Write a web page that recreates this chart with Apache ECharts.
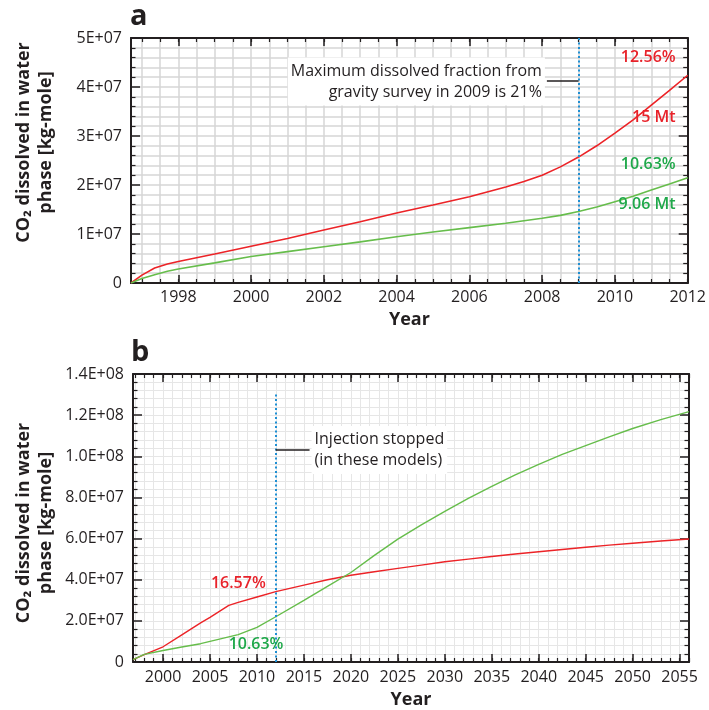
<!DOCTYPE html>
<html>
<head>
<meta charset="utf-8">
<script src="https://cdn.jsdelivr.net/npm/echarts@6.0.0/dist/echarts.min.js"></script>
<style>
  html, body { margin: 0; padding: 0; background: #fff; }
  #chart { width: 709px; height: 710px; }
</style>
</head>
<body>
<div id="chart"></div>
<script>
// panel a: 1996 - 2012
const yearsA = [1996.7, 1997.0, 1997.35, 1997.7, 1998, 1999, 2000, 2001, 2002, 2003, 2004, 2005, 2006, 2007, 2007.5, 2008, 2008.5, 2009, 2009.5, 2010, 2010.5, 2011, 2011.5, 2012];
const redA = [0, 1.6e6, 3.06e6, 3.88e6, 4.4e6, 5.9e6, 7.5e6, 9.1e6, 1.08e7, 1.25e7, 1.43e7, 1.59e7, 1.76e7, 1.96e7, 2.07e7, 2.2e7, 2.37e7, 2.57e7, 2.8e7, 3.06e7, 3.33e7, 3.63e7, 3.93e7, 4.24e7];
const greenA = [0, 0.9e6, 1.7e6, 2.38e6, 2.86e6, 4.1e6, 5.4e6, 6.4e6, 7.4e6, 8.4e6, 9.45e6, 1.04e7, 1.13e7, 1.22e7, 1.27e7, 1.32e7, 1.38e7, 1.46e7, 1.55e7, 1.66e7, 1.77e7, 1.9e7, 2.02e7, 2.15e7];

// panel b: 1996 - 2056
const yearsB = [1996.8, 1998, 2000, 2002, 2004, 2005, 2007, 2008, 2010, 2012, 2015, 2017.5, 2020, 2022.5, 2025, 2027.5, 2030, 2032.5, 2035, 2037.5, 2040, 2042.5, 2045, 2047.5, 2050, 2053, 2056];
const redB = [1.2e6, 3.6e6, 7.4e6, 1.32e7, 1.9e7, 2.17e7, 2.75e7, 2.9e7, 3.16e7, 3.42e7, 3.74e7, 4.0e7, 4.22e7, 4.39e7, 4.55e7, 4.71e7, 4.87e7, 5.0e7, 5.13e7, 5.25e7, 5.36e7, 5.47e7, 5.58e7, 5.68e7, 5.77e7, 5.88e7, 5.98e7];
const greenB = [1.2e6, 3.7e6, 5.6e6, 7.3e6, 8.9e6, 1.0e7, 1.22e7, 1.33e7, 1.68e7, 2.2e7, 3.0e7, 3.68e7, 4.35e7, 5.18e7, 5.97e7, 6.67e7, 7.32e7, 7.95e7, 8.54e7, 9.1e7, 9.61e7, 1.009e8, 1.052e8, 1.094e8, 1.135e8, 1.178e8, 1.217e8];

// ticks
const xTicksA = [1998, 2000, 2002, 2004, 2006, 2008, 2010, 2012];
const xTicksB = [2000, 2005, 2010, 2015, 2020, 2025, 2030, 2035, 2040, 2045, 2050, 2055];
const yTicksA = [0, 1e7, 2e7, 3e7, 4e7, 5e7];
const yLabelsA = ['0', '1E+07', '2E+07', '3E+07', '4E+07', '5E+07'];
const yTicksB = [0, 2e7, 4e7, 6e7, 8e7, 1e8, 1.2e8, 1.4e8];
const yLabelsB = ['0', '2.0E+07', '4.0E+07', '6.0E+07', '8.0E+07', '1.0E+08', '1.2E+08', '1.4E+08'];

// annotation texts
const endLabelsRedA = ['12.56%', '15 Mt'];
const endLabelsGreenA = ['10.63%', '9.06 Mt'];
const noteA = 'Maximum dissolved fraction from\ngravity survey in 2009 is 21%';
const noteB = 'Injection stopped\n(in these models)';
const yName = 'CO₂ dissolved in water\nphase [kg-mole]';

const FONT = '"Open Sans", "Noto Sans", sans-serif';
const INK = '#231f20';
const RED = '#ec2327';
const GREEN = '#66bd4b';
const RED_TXT = '#e8222a';
const GREEN_TXT = '#1fa84a';
const BLUE = '#1e8fd3';

function steps(from, to, step) {
  let out = [];
  for (let v = from; v <= to + 1e-9; v += step) out.push(+v.toFixed(2));
  return out;
}

function zip(xs, ys) {
  return xs.map((x, i) => [x, ys[i]]);
}

function xAxes(grid, min, max, major, minor, gridColor, gridWidth, labelMargin, nameGap) {
  const base = {
    type: 'value',
    gridIndex: grid,
    min: min,
    max: max,
    axisLine: { onZero: false, lineStyle: { color: INK, width: 2 } },
    axisLabel: { show: false },
    splitLine: { show: false },
  };
  return [
    Object.assign({}, base, {
      position: 'bottom',
      name: 'Year',
      nameLocation: 'middle',
      nameGap: nameGap,
      nameMoveOverlap: false,
      nameTextStyle: { fontFamily: FONT, fontSize: 18, fontWeight: 'bold', color: INK, verticalAlign: 'top' },
      axisTick: { customValues: major, inside: true, length: 8, lineStyle: { color: INK, width: 1.5 } },
      axisLabel: {
        customValues: major, margin: labelMargin,
        fontFamily: FONT, fontSize: 16, color: INK, formatter: (v) => String(v),
      },
    }),
    Object.assign({}, base, {
      position: 'bottom',
      axisLine: { show: false, onZero: false },
      axisTick: { customValues: minor, inside: true, length: 4, lineStyle: { color: INK, width: 1.2 } },
      splitLine: { show: true, lineStyle: { color: gridColor, width: gridWidth } },
    }),
    Object.assign({}, base, {
      position: 'top',
      axisTick: { customValues: major, inside: true, length: 8, lineStyle: { color: INK, width: 1.5 } },
    }),
    Object.assign({}, base, {
      position: 'top',
      axisLine: { show: false, onZero: false },
      axisTick: { customValues: minor, inside: true, length: 4, lineStyle: { color: INK, width: 1.2 } },
    }),
  ];
}

function yAxes(grid, ticks, labels, gridColor, gridWidth, nameGap, namePad) {
  const base = {
    type: 'value',
    gridIndex: grid,
    min: 0,
    max: ticks[ticks.length - 1],
    interval: ticks[1],
    axisLine: { onZero: false, lineStyle: { color: INK, width: 2 } },
    axisTick: { inside: true, length: 9, lineStyle: { color: INK, width: 1.5 } },
    minorTick: { show: true, splitNumber: 5, length: 4.5, lineStyle: { color: INK, width: 1.2 } },
  };
  return [
    Object.assign({}, base, {
      position: 'left',
      name: yName,
      nameLocation: 'middle',
      nameGap: nameGap,
      nameRotate: 90,
      nameMoveOverlap: false,
      nameTextStyle: {
        fontFamily: FONT, fontSize: 18, fontWeight: 'bold', color: INK,
        lineHeight: 22, padding: namePad,
      },
      axisLabel: {
        margin: 9, fontFamily: FONT, fontSize: 16, color: INK,
        formatter: (v) => labels[ticks.indexOf(v)] || '',
      },
      splitLine: { show: true, lineStyle: { color: gridColor, width: gridWidth } },
      minorSplitLine: { show: true, lineStyle: { color: gridColor, width: gridWidth } },
    }),
    Object.assign({}, base, {
      position: 'right',
      axisLabel: { show: false },
      splitLine: { show: false },
    }),
  ];
}

function endLabel(coord, text, color, position) {
  return {
    coord: coord,
    name: text,
    label: {
      show: true, position: position, distance: 3, formatter: '{b}',
      fontFamily: FONT, fontSize: 16, fontWeight: 600, color: color,
    },
  };
}

function note(coord, text, position, align) {
  return {
    coord: coord,
    name: text,
    label: {
      show: true, position: position, distance: 2, formatter: '{b}', align: align,
      fontFamily: FONT, fontSize: 16, lineHeight: 21, color: INK,
      backgroundColor: '#fff', padding: [3, 3],
    },
  };
}

const lineBase = { type: 'line', showSymbol: false, symbol: 'none', smooth: false, z: 3 };

const option = {
  animation: false,
  backgroundColor: '#fff',
  title: [
    { text: 'a', left: 130, top: 2, padding: 0, textStyle: { fontFamily: FONT, fontSize: 29, fontWeight: 'bold', color: INK } },
    { text: 'b', left: 131, top: 338, padding: 0, textStyle: { fontFamily: FONT, fontSize: 29, fontWeight: 'bold', color: INK } },
  ],
  grid: [
    { left: 131, top: 38, right: 20, height: 245 },
    { left: 133, top: 374, right: 20, height: 288 },
  ],
  xAxis: [].concat(
    xAxes(0, 1996.7, 2012, xTicksA, steps(1997, 2012, 0.5), '#d6d6d6', 1.5, 6, 28),
    xAxes(1, 1996.8, 2056, xTicksB, steps(1997, 2056, 1), '#e6e6e6', 1, 7, 29)
  ),
  yAxis: [].concat(
    yAxes(0, yTicksA, yLabelsA, '#d6d6d6', 1.5, 74, [0, 0, 0, 36]),
    yAxes(1, yTicksB, yLabelsB, '#e6e6e6', 1, 76, [0, 10, 0, 0])
  ),
  series: [
    Object.assign({}, lineBase, {
      name: 'red a', xAxisIndex: 0, yAxisIndex: 0,
      data: zip(yearsA, redA),
      lineStyle: { color: RED, width: 1.6 },
      markLine: {
        silent: true, symbol: 'none', animation: false,
        label: { show: false },
        data: [
          [{ coord: [2009, 0], lineStyle: { color: BLUE, width: 2, type: [2, 2.5] } }, { coord: [2009, 5e7] }],
          [{ coord: [2008.13, 4.13e7], lineStyle: { color: INK, width: 1.5, type: 'solid' } }, { coord: [2009, 4.13e7] }],
        ],
      },
      markPoint: {
        symbol: 'circle', symbolSize: 0, silent: true,
        data: [
          endLabel([2011.75, 4.61e7], endLabelsRedA[0], RED_TXT, 'left'),
          endLabel([2011.75, 3.37e7], endLabelsRedA[1], RED_TXT, 'left'),
          note([2008.13, 4.11e7], noteA, 'left', 'right'),
        ],
      },
    }),
    Object.assign({}, lineBase, {
      name: 'green a', xAxisIndex: 0, yAxisIndex: 0,
      data: zip(yearsA, greenA),
      lineStyle: { color: GREEN, width: 1.6 },
      markPoint: {
        symbol: 'circle', symbolSize: 0, silent: true,
        data: [
          endLabel([2011.75, 2.41e7], endLabelsGreenA[0], GREEN_TXT, 'left'),
          endLabel([2011.75, 1.61e7], endLabelsGreenA[1], GREEN_TXT, 'left'),
        ],
      },
    }),
    Object.assign({}, lineBase, {
      name: 'red b', xAxisIndex: 4, yAxisIndex: 2,
      data: zip(yearsB, redB),
      lineStyle: { color: RED, width: 1.4 },
      markLine: {
        silent: true, symbol: 'none', animation: false,
        label: { show: false },
        data: [
          [{ coord: [2012, 0], lineStyle: { color: BLUE, width: 2, type: [2, 2.5] } }, { coord: [2012, 1.31e8] }],
          [{ coord: [2012, 1.03e8], lineStyle: { color: INK, width: 1.5, type: 'solid' } }, { coord: [2015.6, 1.03e8] }],
        ],
      },
      markPoint: {
        symbol: 'circle', symbolSize: 0, silent: true,
        data: [
          endLabel([2011.25, 3.84e7], '16.57%', RED_TXT, 'left'),
          note([2015.6, 1.03e8], noteB, 'right', 'left'),
        ],
      },
    }),
    Object.assign({}, lineBase, {
      name: 'green b', xAxisIndex: 4, yAxisIndex: 2,
      data: zip(yearsB, greenB),
      lineStyle: { color: GREEN, width: 1.4 },
      markPoint: {
        symbol: 'circle', symbolSize: 0, silent: true,
        data: [
          endLabel([2009.9, 0.87e7], '10.63%', GREEN_TXT, 'inside'),
        ],
      },
    }),
  ],
};

const chart = echarts.init(document.getElementById('chart'), null, { renderer: 'canvas' });
chart.setOption(option);
</script>
</body>
</html>
